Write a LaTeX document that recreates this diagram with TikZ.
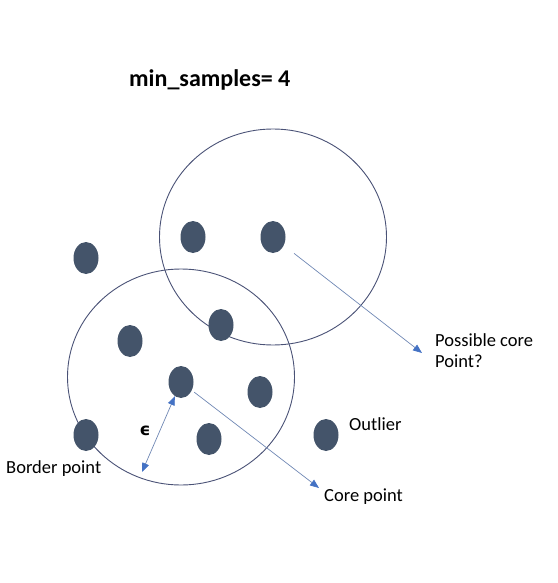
\documentclass[tikz,border=0pt]{standalone}
\usepackage{fontspec}
\setmainfont{Carlito}
\newfontfamily\epsfont{DejaVu Sans}
\usetikzlibrary{arrows.meta, shapes.geometric}
\definecolor{dotblue}{HTML}{44546A}
\definecolor{ringblue}{HTML}{4A5276}
\definecolor{linkblue}{HTML}{7088B4}
\definecolor{tipblue}{HTML}{4472C4}

\begin{document}
\begin{tikzpicture}[
    x=1pt, y=-1pt,
    dot/.style={ellipse, fill=dotblue, minimum width=25pt, minimum height=32pt, inner sep=0pt},
    ring/.style={draw=ringblue, line width=0.9pt},
    arrow/.style={draw=linkblue, line width=0.7pt, -{Triangle[length=9pt, width=7pt, color=tipblue]}},
    twoway/.style={draw=linkblue, line width=0.7pt,
                   {Triangle[length=9pt, width=7pt, color=tipblue]}-{Triangle[length=9pt, width=7pt, color=tipblue]}},
    lbl/.style={anchor=base west, inner sep=0pt, font=\fontsize{18.5}{21}\selectfont, align=left}
  ]
    \useasboundingbox (0,0) rectangle (557,583);

    \node[anchor=base west, inner sep=0pt, font=\bfseries\fontsize{24}{28}\selectfont]
          (title) at (129,87) {min\_samples= 4};

    \draw[ring] (273,237) ellipse [x radius=113.5, y radius=108];
    \draw[ring] (181,377) ellipse [x radius=113.5, y radius=108];

    \node[dot] (lone)     at (86,258)  {};
    \node[dot] (upleft)   at (193,237) {};
    \node[dot] (possible) at (273,237) {};
    \node[dot] (midleft)  at (130,341) {};
    \node[dot] (overlap)  at (221,325) {};
    \node[dot] (core)     at (181,382) {};
    \node[dot] (midright) at (260,392) {};
    \node[dot] (border)   at (86,435)  {};
    \node[dot] (low)      at (209,439) {};
    \node[dot] (outlier)  at (326,435) {};

    \coordinate (possibleEnd) at (422,353);
    \coordinate (coreEnd)     at (319,488);
    \coordinate (epsEnd)      at (142,472);

    \draw[arrow, shorten <=13pt] (possible) -- (possibleEnd);
    \draw[arrow, shorten <=3pt]  (core) -- (coreEnd);
    \draw[twoway] (epsEnd) -- (core);

    \node[lbl] (possibleLbl) at (435,367) {Possible core\\Point?};
    \node[lbl] (outlierLbl)  at (349,430) {Outlier};
    \node[lbl] (coreLbl)     at (324,501) {Core point};
    \node[lbl] (borderLbl)   at (6,473)   {Border point};
    \node[anchor=base, inner sep=0pt, font=\epsfont\bfseries\fontsize{17}{20}\selectfont]
          (eps) at (145,435) {ϵ};
  \end{tikzpicture}
\end{document}
